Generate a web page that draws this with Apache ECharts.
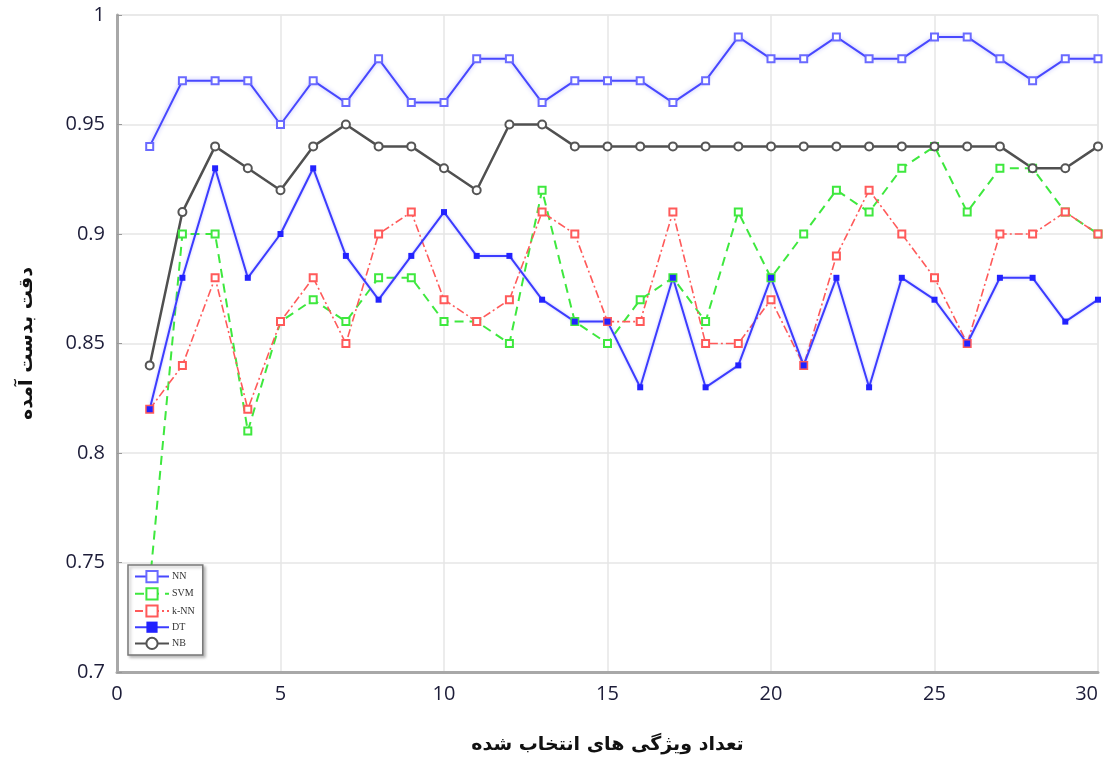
<!DOCTYPE html>
<html>
<head>
<meta charset="utf-8">
<script src="https://cdn.jsdelivr.net/npm/echarts@6/dist/echarts.min.js"></script>
<style>
html,body{margin:0;padding:0;background:#fff;}
#chart{width:1103px;height:763px;}
</style>
</head>
<body>
<div id="chart"></div>
<script>
const xValues = [1,2,3,4,5,6,7,8,9,10,11,12,13,14,15,16,17,18,19,20,21,22,23,24,25,26,27,28,29,30];
const nnValues  = [0.94,0.97,0.97,0.97,0.95,0.97,0.96,0.98,0.96,0.96,0.98,0.98,0.96,0.97,0.97,0.97,0.96,0.97,0.99,0.98,0.98,0.99,0.98,0.98,0.99,0.99,0.98,0.97,0.98,0.98];
const svmValues = [0.74,0.90,0.90,0.81,0.86,0.87,0.86,0.88,0.88,0.86,0.86,0.85,0.92,0.86,0.85,0.87,0.88,0.86,0.91,0.88,0.90,0.92,0.91,0.93,0.94,0.91,0.93,0.93,0.91,0.90];
const knnValues = [0.82,0.84,0.88,0.82,0.86,0.88,0.85,0.90,0.91,0.87,0.86,0.87,0.91,0.90,0.86,0.86,0.91,0.85,0.85,0.87,0.84,0.89,0.92,0.90,0.88,0.85,0.90,0.90,0.91,0.90];
const dtValues  = [0.82,0.88,0.93,0.88,0.90,0.93,0.89,0.87,0.89,0.91,0.89,0.89,0.87,0.86,0.86,0.83,0.88,0.83,0.84,0.88,0.84,0.88,0.83,0.88,0.87,0.85,0.88,0.88,0.86,0.87];
const nbValues  = [0.84,0.91,0.94,0.93,0.92,0.94,0.95,0.94,0.94,0.93,0.92,0.95,0.95,0.94,0.94,0.94,0.94,0.94,0.94,0.94,0.94,0.94,0.94,0.94,0.94,0.94,0.94,0.93,0.93,0.94];
const seriesNames = ['NN','SVM','k-NN','DT','NB'];
const xTitle = 'تعداد ویژگی های انتخاب شده';
const yTitle = 'دقت بدست آمده';

function pairs(vals){ return xValues.map((x,i)=>[x, vals[i]]); }

const chart = echarts.init(document.getElementById('chart'), null, {renderer:'canvas'});
const labelFont = {fontFamily:'Open Sans', fontSize:20, color:'#1c1c38'};
chart.setOption({
  animation:false,
  backgroundColor:'#ffffff',
  grid:{left:117, top:15, width:981, height:657, containLabel:false, show:true, borderColor:'#e4e4e4', borderWidth:1},
  legend:{
    orient:'vertical', left:128, top:565, padding:[5,8,5,6],
    itemGap:4, itemWidth:34, itemHeight:14,
    backgroundColor:'#ffffff', borderColor:'#777', borderWidth:1.5,
    shadowColor:'rgba(0,0,0,0.25)', shadowBlur:3, shadowOffsetX:2, shadowOffsetY:2,
    textStyle:{fontFamily:'Liberation Serif', fontSize:10, color:'#333', padding:[0,0,0,-2]},
    data: seriesNames
  },
  xAxis:{
    type:'value', min:0, max:30, interval:5,
    name:xTitle, nameLocation:'middle', nameGap:64,
    nameTextStyle:{fontFamily:'DejaVu Sans', fontSize:19, fontWeight:'bold', color:'#111'},
    axisLine:{show:true, lineStyle:{color:'#a8a8a8', width:3}},
    axisTick:{show:false},
    axisLabel:Object.assign({margin:12, alignMaxLabel:'right'}, labelFont),
    splitLine:{show:true, lineStyle:{color:'#e6e6e6', width:1.5}}
  },
  yAxis:{
    type:'value', min:0.7, max:1, interval:0.05,
    name:yTitle, nameLocation:'middle', nameGap:80, nameRotate:90,
    nameTextStyle:{fontFamily:'DejaVu Sans', fontSize:19, fontWeight:'bold', color:'#111'},
    axisLine:{show:true, lineStyle:{color:'#a8a8a8', width:3}},
    axisTick:{show:true, inside:true, length:5, lineStyle:{color:'#999'}},
    axisLabel:Object.assign({margin:12, formatter:v=>String(+v.toFixed(2))}, labelFont),
    splitLine:{show:true, lineStyle:{color:'#e6e6e6', width:1.5}}
  },
  series:[
    {name:seriesNames[0], type:'line', data:pairs(nnValues), symbol:'emptyRect', symbolSize:7,
     color:'#4848ff', lineStyle:{width:2, color:'#4848ff', shadowColor:'rgba(90,90,255,0.45)', shadowBlur:4},
     itemStyle:{color:'#6a6aff', borderColor:'#6a6aff', borderWidth:1.5}},
    {name:seriesNames[1], type:'line', data:pairs(svmValues), symbol:'emptyRect', symbolSize:7,
     color:'#3ee83e', lineStyle:{width:2, color:'#3ee83e', type:[9,6]},
     itemStyle:{color:'#3ee83e', borderColor:'#3ee83e', borderWidth:1.5}},
    {name:seriesNames[2], type:'line', data:pairs(knnValues), symbol:'emptyRect', symbolSize:7,
     color:'#ff5a5a', lineStyle:{width:1.6, color:'#ff5a5a', type:[8,3,2,3]},
     itemStyle:{color:'#ff5a5a', borderColor:'#ff5a5a', borderWidth:1.5}},
    {name:seriesNames[3], type:'line', data:pairs(dtValues), symbol:'rect', symbolSize:6,
     color:'#3636ff', lineStyle:{width:2, color:'#3c3cff', shadowColor:'rgba(90,90,255,0.35)', shadowBlur:3},
     itemStyle:{color:'#2222ff'}},
    {name:seriesNames[4], type:'line', data:pairs(nbValues), symbol:'emptyCircle', symbolSize:8,
     color:'#555555', lineStyle:{width:2.5, color:'#505050'},
     itemStyle:{color:'#555', borderColor:'#555', borderWidth:1.5}}
  ]
});
</script>
</body>
</html>
